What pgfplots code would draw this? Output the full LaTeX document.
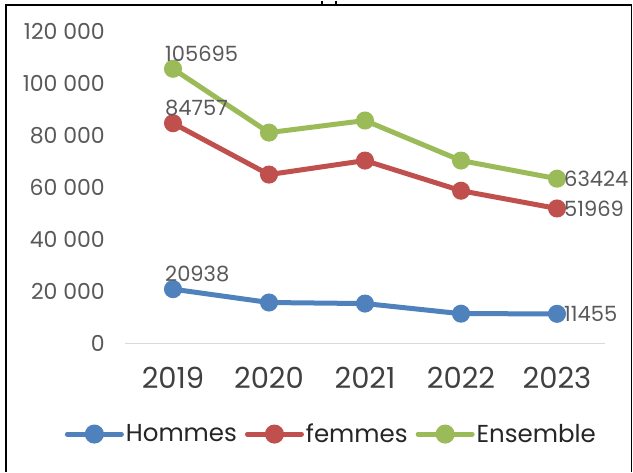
\documentclass[border=0pt]{standalone}
\usepackage{pgfplots}
\pgfplotsset{compat=1.18}
\usepackage{fontspec}
\setmainfont{Poppins}
\definecolor{cH}{HTML}{4F81BD}
\definecolor{cF}{HTML}{C0504D}
\definecolor{cE}{HTML}{9BBB59}
\definecolor{txt}{HTML}{595959}
\definecolor{axl}{HTML}{D9D9D9}
\begin{document}
\begin{tikzpicture}[x=1pt,y=1pt]
\path (0,0) rectangle (633,471);
\begin{scope}
\clip (0,0) rectangle (631,471);
\begin{axis}[
  at={(125pt,128pt)}, anchor=south west,
  scale only axis, width=480pt, height=312pt,
  xmin=-0.5, xmax=4.5, ymin=0, ymax=120000,
  xtick={0,1,2,3,4}, xticklabels={2019,2020,2021,2022,2023},
  ytick={0,20000,40000,60000,80000,100000,120000},
  yticklabels={0,20 000,40 000,60 000,80 000,100 000,120 000},
  scaled y ticks=false,
  axis x line*=bottom, axis y line*=left,
  x axis line style={axl, line width=1.2pt, -},
  y axis line style={draw=none},
  major tick length=0pt,
  xticklabel style={font=\fontsize{29}{33}\selectfont, text=black!75, anchor=center, yshift=-34pt},
  yticklabel style={font=\fontsize{22}{26}\selectfont, text=txt, anchor=east, inner sep=0pt, xshift=-20pt},
  clip=false,
  legend style={at={(0.43,-0.29)}, anchor=center, draw=none, legend columns=3,
     font=\fontsize{24.5}{28}\selectfont, text=black!85, inner sep=0pt,
     /tikz/every even column/.append style={column sep=6pt},
     /tikz/every odd column/.append style={column sep=0pt}},
  legend image code/.code={\draw[#1, line width=5pt, line cap=round] (0pt,0pt) -- (54pt,0pt);
     \fill[#1] (27pt,0pt) circle (7pt);},
  every node near coord/.append style={font=\fontsize{21}{25}\selectfont, text=txt},
]
\addplot[cH, line width=5pt, mark=*, mark size=6.5pt] coordinates {(0,20938) (1,15800) (2,15400) (3,11500) (4,11455)};
\addlegendentry{Hommes}
\addplot[cF, line width=5pt, mark=*, mark size=6.5pt] coordinates {(0,84757) (1,65000) (2,70400) (3,58800) (4,51969)};
\addlegendentry{femmes}
\addplot[cE, line width=5pt, mark=*, mark size=6.5pt] coordinates {(0,105695) (1,81150) (2,85800) (3,70400) (4,63424)};
\addlegendentry{Ensemble}
% data labels
\addplot[draw=none, mark=none, forget plot, nodes near coords={\pgfplotspointmeta},
  point meta=explicit symbolic,
  every node near coord/.append style={anchor=south west, xshift=-9pt, yshift=6pt, inner sep=1pt}]
  coordinates {(0,20938) [20938] (0,84757) [84757] (0,105695) [105695]};
\addplot[draw=none, mark=none, forget plot, nodes near coords={\pgfplotspointmeta},
  point meta=explicit symbolic,
  every node near coord/.append style={anchor=west, xshift=6pt, inner sep=1pt}]
  coordinates {(4,11455) [11455] (4,51969) [51969] (4,63424) [63424]};
\end{axis}
\end{scope}
\draw[line width=2pt] (6,0) -- (6,466.5) -- (631.5,466.5);
\draw[line width=1pt] (631.5,466.5) -- (631.5,0);
\draw[line width=1.2pt] (322,471) -- (322,466.5);
\draw[line width=1.2pt] (336,471) -- (336,466.5);
\end{tikzpicture}
\end{document}
